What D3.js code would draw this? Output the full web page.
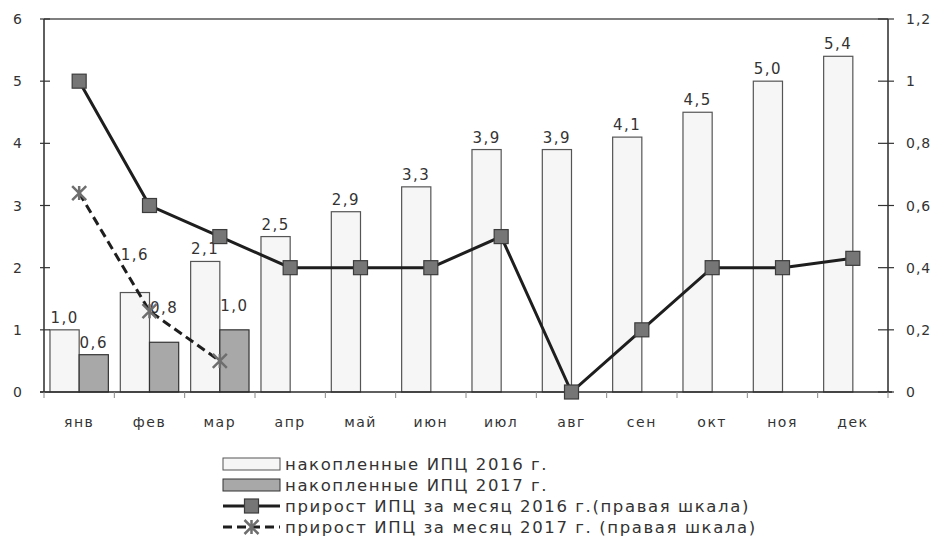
<!DOCTYPE html>
<html lang="ru">
<head>
<meta charset="utf-8">
<title>ИПЦ 2016-2017</title>
<script src="https://cdn.jsdelivr.net/npm/d3@7"></script>
<style>
  body { margin: 0; background: #fff; }
  text { font-family: "DejaVu Sans", sans-serif; fill: #333; }
</style>
</head>
<body>
<script>
// data
var months = ["янв", "фев", "мар", "апр", "май", "июн", "июл", "авг", "сен", "окт", "ноя", "дек"];
var cum2016 = [1.0, 1.6, 2.1, 2.5, 2.9, 3.3, 3.9, 3.9, 4.1, 4.5, 5.0, 5.4];
var cum2017 = [0.6, 0.8, 1.0];
var mom2016 = [1.0, 0.6, 0.5, 0.4, 0.4, 0.4, 0.5, 0.0, 0.2, 0.4, 0.4, 0.43];
var mom2017 = [0.64, 0.26, 0.1];
var leftTicks = [0, 1, 2, 3, 4, 5, 6];
var rightTicks = [0, 0.2, 0.4, 0.6, 0.8, 1, 1.2];
var legendNames = ["накопленные ИПЦ 2016 г.", "накопленные ИПЦ 2017 г.",
  "прирост ИПЦ за месяц 2016 г.(правая шкала)", "прирост ИПЦ за месяц 2017 г. (правая шкала)"];

var W = 939, H = 558;
var plotLeft = 44, plotRight = 888, plotTop = 19, plotBottom = 392;
var comma = function(v) { return String(v).replace(".", ","); };
var fmt1 = function(v) { return d3.format(".1f")(v).replace(".", ","); };

var svg = d3.select("body").append("svg").attr("width", W).attr("height", H);

var x = d3.scaleBand().domain(months).range([plotLeft, plotRight]);
var bw = x.bandwidth();
var xs = d3.scaleBand().domain(["2016", "2017"]).range([bw * 0.085, bw * 0.915]);
var yL = d3.scaleLinear().domain([0, 6]).range([plotBottom, plotTop]);
var yR = d3.scaleLinear().domain([0, 1.2]).range([plotBottom, plotTop]);

// bars 2016
svg.append("g").selectAll("rect").data(cum2016).enter().append("rect")
  .attr("x", function(d, i) { return x(months[i]) + xs("2016"); })
  .attr("y", function(d) { return yL(d); })
  .attr("width", xs.bandwidth())
  .attr("height", function(d) { return plotBottom - yL(d); })
  .attr("fill", "#f6f6f6").attr("stroke", "#555").attr("stroke-width", 1.2);

// bars 2017
svg.append("g").selectAll("rect").data(cum2017).enter().append("rect")
  .attr("x", function(d, i) { return x(months[i]) + xs("2017"); })
  .attr("y", function(d) { return yL(d); })
  .attr("width", xs.bandwidth())
  .attr("height", function(d) { return plotBottom - yL(d); })
  .attr("fill", "#a8a8a8").attr("stroke", "#333").attr("stroke-width", 1.2);

// bar labels (a few were dragged up off the lines in the original)
var lift2016 = { 1: 26 };
var lift2017 = { 1: 22, 2: 12 };
svg.append("g").selectAll("text").data(cum2016).enter().append("text")
  .attr("x", function(d, i) { return x(months[i]) + xs("2016") + xs.bandwidth() / 2; })
  .attr("y", function(d, i) { return yL(d) - 7 - (lift2016[i] || 0); })
  .attr("text-anchor", "middle").attr("font-size", 15).attr("letter-spacing", 1.5)
  .text(fmt1);
svg.append("g").selectAll("text").data(cum2017).enter().append("text")
  .attr("x", function(d, i) { return x(months[i]) + xs("2017") + xs.bandwidth() / 2; })
  .attr("y", function(d, i) { return yL(d) - 7 - (lift2017[i] || 0); })
  .attr("text-anchor", "middle").attr("font-size", 15).attr("letter-spacing", 1.5)
  .text(fmt1);

// frame and axes
var frame = svg.append("g").attr("stroke", "#2a2a2a").attr("stroke-width", 1.5);
frame.append("line").attr("x1", plotLeft).attr("x2", plotRight).attr("y1", plotTop).attr("y2", plotTop).attr("stroke", "#555");
frame.append("line").attr("x1", plotLeft).attr("x2", plotLeft).attr("y1", plotTop).attr("y2", plotBottom);
frame.append("line").attr("x1", plotRight).attr("x2", plotRight).attr("y1", plotTop).attr("y2", plotBottom);
frame.append("line").attr("x1", plotLeft - 4).attr("x2", plotRight + 4).attr("y1", plotBottom).attr("y2", plotBottom);

// left ticks
svg.append("g").selectAll("line").data(leftTicks).enter().append("line")
  .attr("x1", plotLeft - 4).attr("x2", plotLeft + 6)
  .attr("y1", function(d) { return yL(d); }).attr("y2", function(d) { return yL(d); })
  .attr("stroke", "#333").attr("stroke-width", 1.2);
svg.append("g").selectAll("text").data(leftTicks).enter().append("text")
  .attr("x", 22).attr("y", function(d) { return yL(d) + 5; })
  .attr("text-anchor", "end").attr("font-size", 14)
  .text(comma);

// right ticks
svg.append("g").selectAll("line").data(rightTicks).enter().append("line")
  .attr("x1", plotRight - 10).attr("x2", plotRight + 6)
  .attr("y1", function(d) { return yR(d); }).attr("y2", function(d) { return yR(d); })
  .attr("stroke", "#333").attr("stroke-width", 1.2);
svg.append("g").selectAll("text").data(rightTicks).enter().append("text")
  .attr("x", 906).attr("y", function(d) { return yR(d) + 5; })
  .attr("font-size", 14).attr("letter-spacing", 1)
  .text(comma);

// x ticks and labels
svg.append("g").selectAll("line").data(months.concat(["end"])).enter().append("line")
  .attr("x1", function(d, i) { return plotLeft + i * bw; }).attr("x2", function(d, i) { return plotLeft + i * bw; })
  .attr("y1", plotBottom).attr("y2", plotBottom + 6)
  .attr("stroke", "#888").attr("stroke-width", 1);
svg.append("g").selectAll("text").data(months).enter().append("text")
  .attr("x", function(d) { return x(d) + bw / 2; })
  .attr("y", 427)
  .attr("text-anchor", "middle").attr("font-size", 14).attr("letter-spacing", 1.5)
  .attr("fill", "#444")
  .text(function(d) { return d; });

// lines
var monthLine = d3.line()
  .x(function(d, i) { return x(months[i]) + bw / 2; })
  .y(function(d) { return yR(d); });
svg.append("path").datum(mom2016).attr("d", monthLine)
  .attr("fill", "none").attr("stroke", "#1e1e1e").attr("stroke-width", 3);
svg.append("path").datum(mom2017).attr("d", monthLine)
  .attr("fill", "none").attr("stroke", "#1e1e1e").attr("stroke-width", 3)
  .attr("stroke-dasharray", "9,5");

function square(g, cx, cy) {
  g.append("rect").attr("x", cx - 7).attr("y", cy - 7).attr("width", 14).attr("height", 14)
    .attr("fill", "#767676").attr("stroke", "#3c3c3c").attr("stroke-width", 1.2);
}
function star(g, cx, cy) {
  var s = 7;
  g.append("path")
    .attr("d", "M" + (cx - s) + "," + (cy - s) + "L" + (cx + s) + "," + (cy + s) +
      "M" + (cx - s) + "," + (cy + s) + "L" + (cx + s) + "," + (cy - s) +
      "M" + cx + "," + (cy - s) + "L" + cx + "," + (cy + s))
    .attr("stroke", "#6e6e6e").attr("stroke-width", 2.5).attr("fill", "none");
}

var marks = svg.append("g");
mom2016.forEach(function(d, i) { square(marks, x(months[i]) + bw / 2, yR(d)); });
mom2017.forEach(function(d, i) { star(marks, x(months[i]) + bw / 2, yR(d)); });

// legend
var lg = svg.append("g");
var ly0 = 464, lstep = 21, lx0 = 223, lx1 = 280;
legendNames.forEach(function(name, i) {
  var cy = ly0 + i * lstep;
  if (i === 0) {
    lg.append("rect").attr("x", lx0).attr("y", cy - 6).attr("width", lx1 - lx0).attr("height", 12)
      .attr("fill", "#f6f6f6").attr("stroke", "#555").attr("stroke-width", 1);
  } else if (i === 1) {
    lg.append("rect").attr("x", lx0).attr("y", cy - 6).attr("width", lx1 - lx0).attr("height", 12)
      .attr("fill", "#a8a8a8").attr("stroke", "#333").attr("stroke-width", 1);
  } else {
    lg.append("line").attr("x1", lx0).attr("x2", lx1).attr("y1", cy).attr("y2", cy)
      .attr("stroke", "#1e1e1e").attr("stroke-width", 3)
      .attr("stroke-dasharray", i === 3 ? "9,5" : null);
    if (i === 2) square(lg, (lx0 + lx1) / 2, cy);
    else star(lg, (lx0 + lx1) / 2, cy);
  }
  lg.append("text").attr("x", lx1 + 5).attr("y", cy + 6)
    .attr("font-size", 16.5).attr("letter-spacing", 1.6).attr("fill", "#222")
    .text(name);
});
</script>
</body>
</html>
